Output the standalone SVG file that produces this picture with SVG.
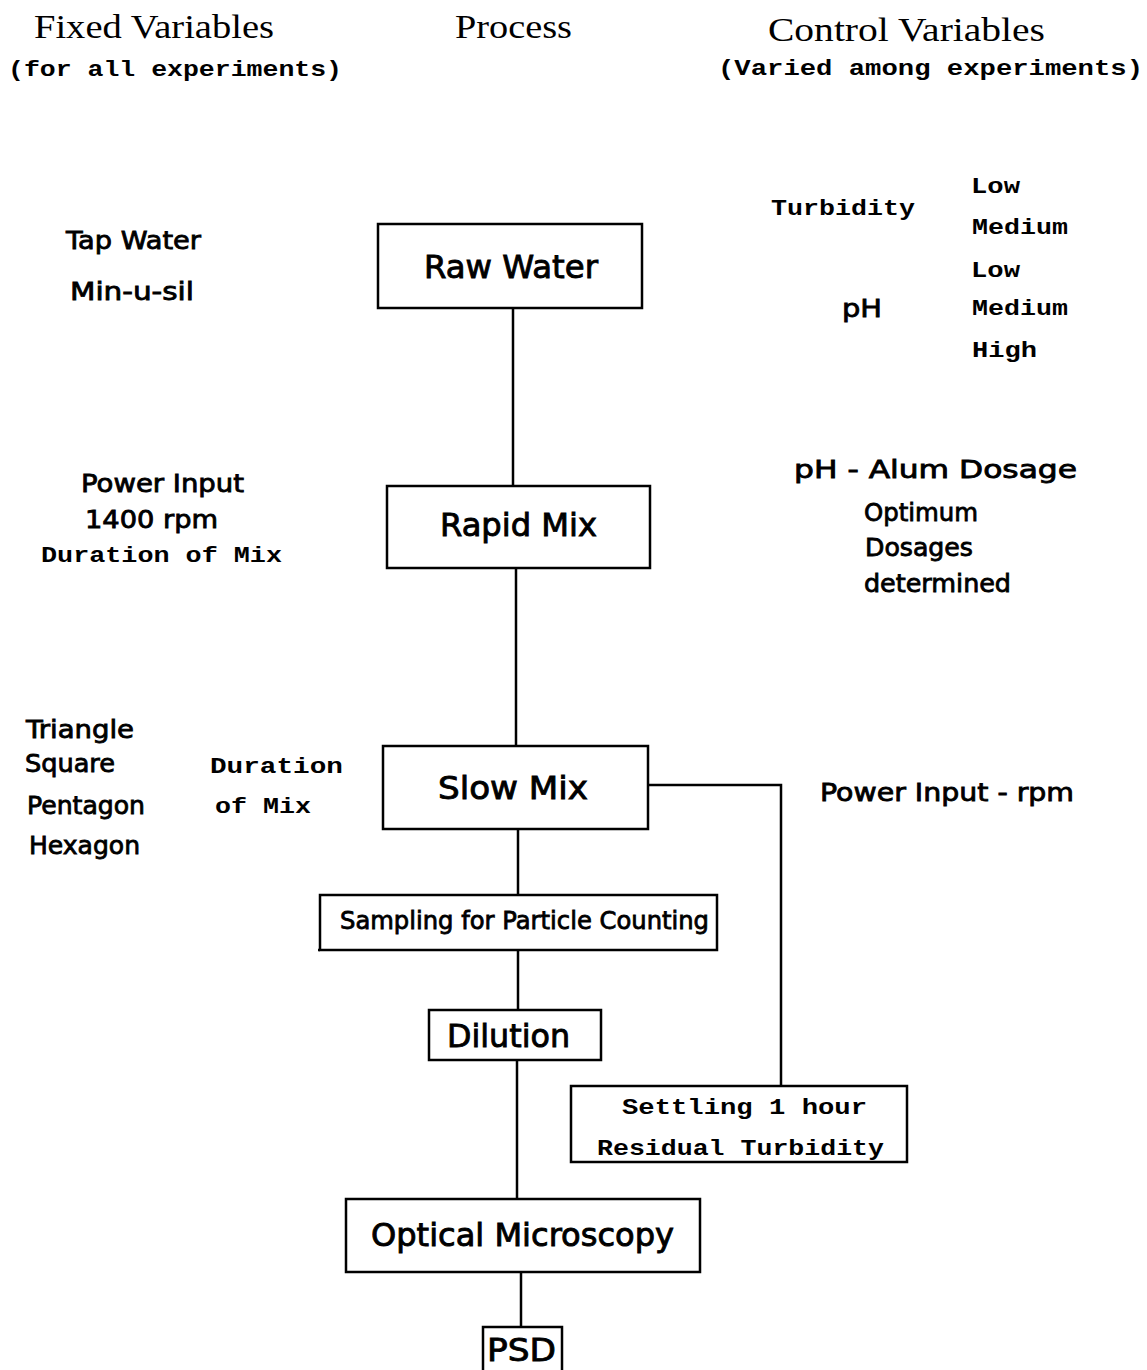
<svg xmlns="http://www.w3.org/2000/svg" width="1147" height="1370" viewBox="0 0 1147 1370">
  <style>
    .bg { fill: #ffffff; }
    .box { fill: #ffffff; stroke: #000000; stroke-width: 2.5; }
    .wire { fill: none; stroke: #000000; stroke-width: 2.5; }
    .head { font-family: "Liberation Serif", "DejaVu Serif", serif; font-size: 33px; fill: #000; }
    .mono { font-family: "Liberation Mono", "DejaVu Sans Mono", monospace; font-weight: bold; font-size: 22px; fill: #000; }
    .sans { font-family: "DejaVu Sans", "Liberation Sans", sans-serif; font-size: 24px; fill: #000; stroke: #000; stroke-width: 0.8; }
    .label { font-family: "DejaVu Sans", "Liberation Sans", sans-serif; font-size: 32px; fill: #000; stroke: #000; stroke-width: 0.9; }
  </style>
  <rect class="bg" x="0" y="0" width="1147" height="1370"/>

  <!-- column headings -->
  <g id="headings">
    <text class="head" x="34" y="38" textLength="240" lengthAdjust="spacingAndGlyphs">Fixed Variables</text>
    <text class="mono" x="8" y="76" textLength="334" lengthAdjust="spacingAndGlyphs">(for all experiments)</text>
    <text class="head" x="455" y="38" textLength="117" lengthAdjust="spacingAndGlyphs">Process</text>
    <text class="head" x="768" y="41" textLength="277" lengthAdjust="spacingAndGlyphs">Control Variables</text>
    <text class="mono" x="718" y="75" textLength="425" lengthAdjust="spacingAndGlyphs">(Varied among experiments)</text>
  </g>

  <!-- connectors -->
  <g id="connectors">
    <line class="wire" x1="513" y1="308" x2="513" y2="486"/>
    <line class="wire" x1="516" y1="568" x2="516" y2="746"/>
    <line class="wire" x1="518" y1="829" x2="518" y2="895"/>
    <line class="wire" x1="518" y1="950" x2="518" y2="1010"/>
    <line class="wire" x1="517" y1="1060" x2="517" y2="1199"/>
    <line class="wire" x1="521" y1="1272" x2="521" y2="1327"/>
    <polyline class="wire" points="648,785 781,785 781,1086"/>
  </g>

  <!-- process nodes -->
  <g id="raw-water">
    <rect class="box" x="378" y="224" width="264" height="84"/>
    <text class="label" x="424" y="278" textLength="174" lengthAdjust="spacingAndGlyphs">Raw Water</text>
  </g>
  <g id="rapid-mix">
    <rect class="box" x="387" y="486" width="263" height="82"/>
    <text class="label" x="440" y="536" textLength="157" lengthAdjust="spacingAndGlyphs">Rapid Mix</text>
  </g>
  <g id="slow-mix">
    <rect class="box" x="383" y="746" width="265" height="83"/>
    <text class="label" x="438" y="799" textLength="150" lengthAdjust="spacingAndGlyphs">Slow Mix</text>
  </g>
  <g id="sampling">
    <rect class="box" x="320" y="895" width="397" height="55"/>
    <line class="wire" x1="318" y1="950" x2="320" y2="950"/>
    <text class="sans" x="340" y="929" font-size="22" textLength="369" lengthAdjust="spacingAndGlyphs">Sampling for Particle Counting</text>
  </g>
  <g id="dilution">
    <rect class="box" x="429" y="1010" width="172" height="50"/>
    <text class="label" x="447" y="1047" font-size="30" textLength="123" lengthAdjust="spacingAndGlyphs">Dilution</text>
  </g>
  <g id="settling">
    <rect class="box" x="571" y="1086" width="336" height="76"/>
    <text class="mono" x="622" y="1114" textLength="245" lengthAdjust="spacingAndGlyphs">Settling 1 hour</text>
    <text class="mono" x="597" y="1155" textLength="287" lengthAdjust="spacingAndGlyphs">Residual Turbidity</text>
  </g>
  <g id="optical-microscopy">
    <rect class="box" x="346" y="1199" width="354" height="73"/>
    <text class="label" x="371" y="1246" font-size="30" textLength="303" lengthAdjust="spacingAndGlyphs">Optical Microscopy</text>
  </g>
  <g id="psd">
    <rect class="box" x="483" y="1327" width="79" height="50"/>
    <text class="label" x="487" y="1361" font-size="30" textLength="69" lengthAdjust="spacingAndGlyphs">PSD</text>
  </g>

  <!-- fixed variables -->
  <g id="fixed-variables">
    <text class="sans" x="66" y="249" textLength="135" lengthAdjust="spacingAndGlyphs">Tap Water</text>
    <text class="sans" x="70" y="300" textLength="124" lengthAdjust="spacingAndGlyphs">Min-u-sil</text>
    <text class="sans" x="81" y="492" textLength="163" lengthAdjust="spacingAndGlyphs">Power Input</text>
    <text class="sans" x="85" y="528" textLength="133" lengthAdjust="spacingAndGlyphs">1400 rpm</text>
    <text class="mono" x="41" y="562" textLength="241" lengthAdjust="spacingAndGlyphs">Duration of Mix</text>
    <text class="sans" x="26" y="738" textLength="108" lengthAdjust="spacingAndGlyphs">Triangle</text>
    <text class="sans" x="25" y="772" textLength="90" lengthAdjust="spacingAndGlyphs">Square</text>
    <text class="sans" x="27" y="814" textLength="118" lengthAdjust="spacingAndGlyphs">Pentagon</text>
    <text class="sans" x="29" y="854" textLength="111" lengthAdjust="spacingAndGlyphs">Hexagon</text>
    <text class="mono" x="210" y="773" textLength="133" lengthAdjust="spacingAndGlyphs">Duration</text>
    <text class="mono" x="215" y="813" textLength="96" lengthAdjust="spacingAndGlyphs">of Mix</text>
  </g>

  <!-- control variables -->
  <g id="control-variables">
    <text class="mono" x="771" y="215" textLength="144" lengthAdjust="spacingAndGlyphs">Turbidity</text>
    <text class="mono" x="971" y="193" textLength="49" lengthAdjust="spacingAndGlyphs">Low</text>
    <text class="mono" x="972" y="234" textLength="96" lengthAdjust="spacingAndGlyphs">Medium</text>
    <text class="mono" x="971" y="277" textLength="49" lengthAdjust="spacingAndGlyphs">Low</text>
    <text class="sans" x="842" y="317" font-size="28" textLength="40" lengthAdjust="spacingAndGlyphs">pH</text>
    <text class="mono" x="972" y="315" textLength="96" lengthAdjust="spacingAndGlyphs">Medium</text>
    <text class="mono" x="972" y="357" textLength="65" lengthAdjust="spacingAndGlyphs">High</text>
    <text class="sans" x="794" y="478" font-size="28" textLength="283" lengthAdjust="spacingAndGlyphs">pH - Alum Dosage</text>
    <text class="sans" x="864" y="521" font-size="22" textLength="114" lengthAdjust="spacingAndGlyphs">Optimum</text>
    <text class="sans" x="865" y="556" font-size="22" textLength="108" lengthAdjust="spacingAndGlyphs">Dosages</text>
    <text class="sans" x="864" y="592" font-size="22" textLength="147" lengthAdjust="spacingAndGlyphs">determined</text>
    <text class="sans" x="820" y="801" textLength="254" lengthAdjust="spacingAndGlyphs">Power Input - rpm</text>
  </g>
</svg>
